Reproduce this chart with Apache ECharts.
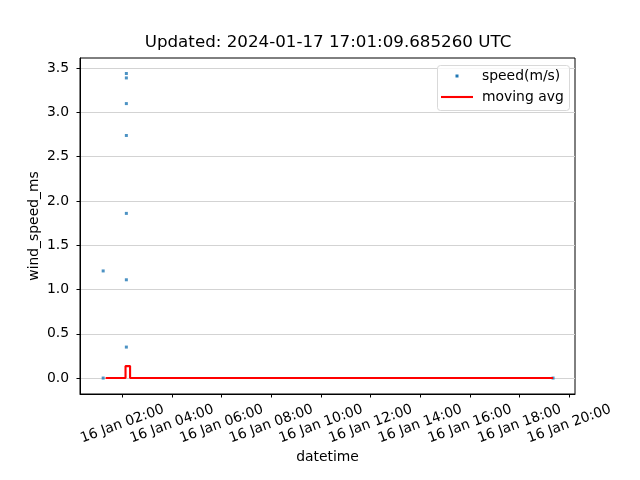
<!DOCTYPE html>
<html>
<head>
<meta charset="utf-8">
<script src="https://cdn.jsdelivr.net/npm/echarts@6/dist/echarts.min.js"></script>
<style>html,body{margin:0;padding:0;background:#fff}#c{width:640px;height:480px}</style>
</head>
<body>
<div id="c"></div>
<script>
// ---- data (times are UTC on 16 Jan 2024) ----
const speedTimes  = ['01:14','01:14','02:10','02:10','02:10','02:10','02:10','02:10','02:10','19:21'];
const speedValues = [1.21, 0.0, 3.44, 3.39, 3.10, 2.74, 1.86, 1.11, 0.35, 0.0];
const avgTimes  = ['01:20','02:08','02:08','02:19','02:19','19:21'];
const avgValues = [0.0, 0.0, 0.135, 0.135, 0.0, 0.0];
const xTickTimes = ['02:00','04:00','06:00','08:00','10:00','12:00','14:00','16:00','18:00','20:00'];
const yTicks = [0.0, 0.5, 1.0, 1.5, 2.0, 2.5, 3.0, 3.5];
const titleText = 'Updated: 2024-01-17 17:01:09.685260 UTC';

const BASE = Date.UTC(2024, 0, 16);
function ts(hm){ const [h,m] = hm.split(':').map(Number); return BASE + (h*60+m)*60000; }
function pad(n){ return (n<10?'0':'')+n; }
function fmt(v){ const d = new Date(v); return d.getUTCDate()+' Jan '+pad(d.getUTCHours())+':'+pad(d.getUTCMinutes()); }

const speedData = speedTimes.map((t,i)=>[ts(t), speedValues[i]]);
const avgData = avgTimes.map((t,i)=>[ts(t), avgValues[i]]);
const xTicks = xTickTimes.map(ts);

const FONT = 'DejaVu Sans';
const chart = echarts.init(document.getElementById('c'), null, {renderer:'canvas'});
chart.setOption({
  animation:false,
  backgroundColor:'#fff',
  textStyle:{fontFamily:FONT},
  grid:{left:80, right:65, top:58, bottom:86, show:true, borderColor:'#000', borderWidth:1, backgroundColor:'transparent'},
  xAxis:{type:'value', min:ts('00:18'), max:ts('20:14'),
    name:'datetime', nameLocation:'middle', nameGap:56, nameMoveOverlap:false,
    nameTextStyle:{fontFamily:FONT, fontSize:13.9, color:'#000'},
    axisLine:{show:true, onZero:false, lineStyle:{color:'#000'}},
    axisTick:{show:true, customValues:xTicks, length:3.5, inside:false, lineStyle:{color:'#000'}},
    axisLabel:{customValues:xTicks, formatter:fmt, rotate:20, margin:30, align:'center', verticalAlign:'middle',
      fontFamily:FONT, fontSize:13.9, color:'#000'},
    splitLine:{show:false}},
  yAxis:{type:'value', min:-0.18, max:3.615,
    name:'wind_speed_ms', nameLocation:'middle', nameGap:39, nameMoveOverlap:false,
    nameTextStyle:{fontFamily:FONT, fontSize:13.9, color:'#000'},
    axisLine:{show:true, onZero:false, lineStyle:{color:'#000'}},
    axisTick:{show:true, customValues:yTicks, length:3.5, lineStyle:{color:'#000'}},
    axisLabel:{customValues:yTicks, formatter:v=>v.toFixed(1), margin:11,
      fontFamily:FONT, fontSize:13.9, color:'#000'},
    splitLine:{show:true, lineStyle:{color:'#d3d3d3', width:1}}},
  series:[
    {type:'scatter', name:'speed(m/s)', data:speedData, symbol:'rect', symbolSize:3,
     itemStyle:{color:'#1f77b4'}, z:3},
    {type:'line', name:'moving avg', data:avgData, showSymbol:false, symbol:'none',
     color:'#ff0000', lineStyle:{color:'#ff0000', width:2.1}, emphasis:{disabled:true}, z:4}
  ],
  graphic:[
    {type:'text', x:328, y:43, style:{text:titleText, font:'16.7px "DejaVu Sans"', fill:'#000', align:'center', verticalAlign:'middle'}, z:101},
    {type:'rect', shape:{x:437.5, y:65.5, width:132, height:45, r:3},
     style:{fill:'rgba(255,255,255,0.8)', stroke:'#d9d9d9', lineWidth:1}, z:100},
    {type:'rect', shape:{x:455.5, y:74.5, width:3, height:3}, style:{fill:'#1f77b4'}, z:101},
    {type:'line', shape:{x1:441, y1:97, x2:473, y2:97}, style:{stroke:'#ff0000', lineWidth:2.1}, z:101},
    {type:'text', x:482, y:76, style:{text:'speed(m/s)', font:'13.9px "DejaVu Sans"', fill:'#000', verticalAlign:'middle'}, z:101},
    {type:'text', x:482, y:97, style:{text:'moving avg', font:'13.9px "DejaVu Sans"', fill:'#000', verticalAlign:'middle'}, z:101}
  ]
});
</script>
</body>
</html>
